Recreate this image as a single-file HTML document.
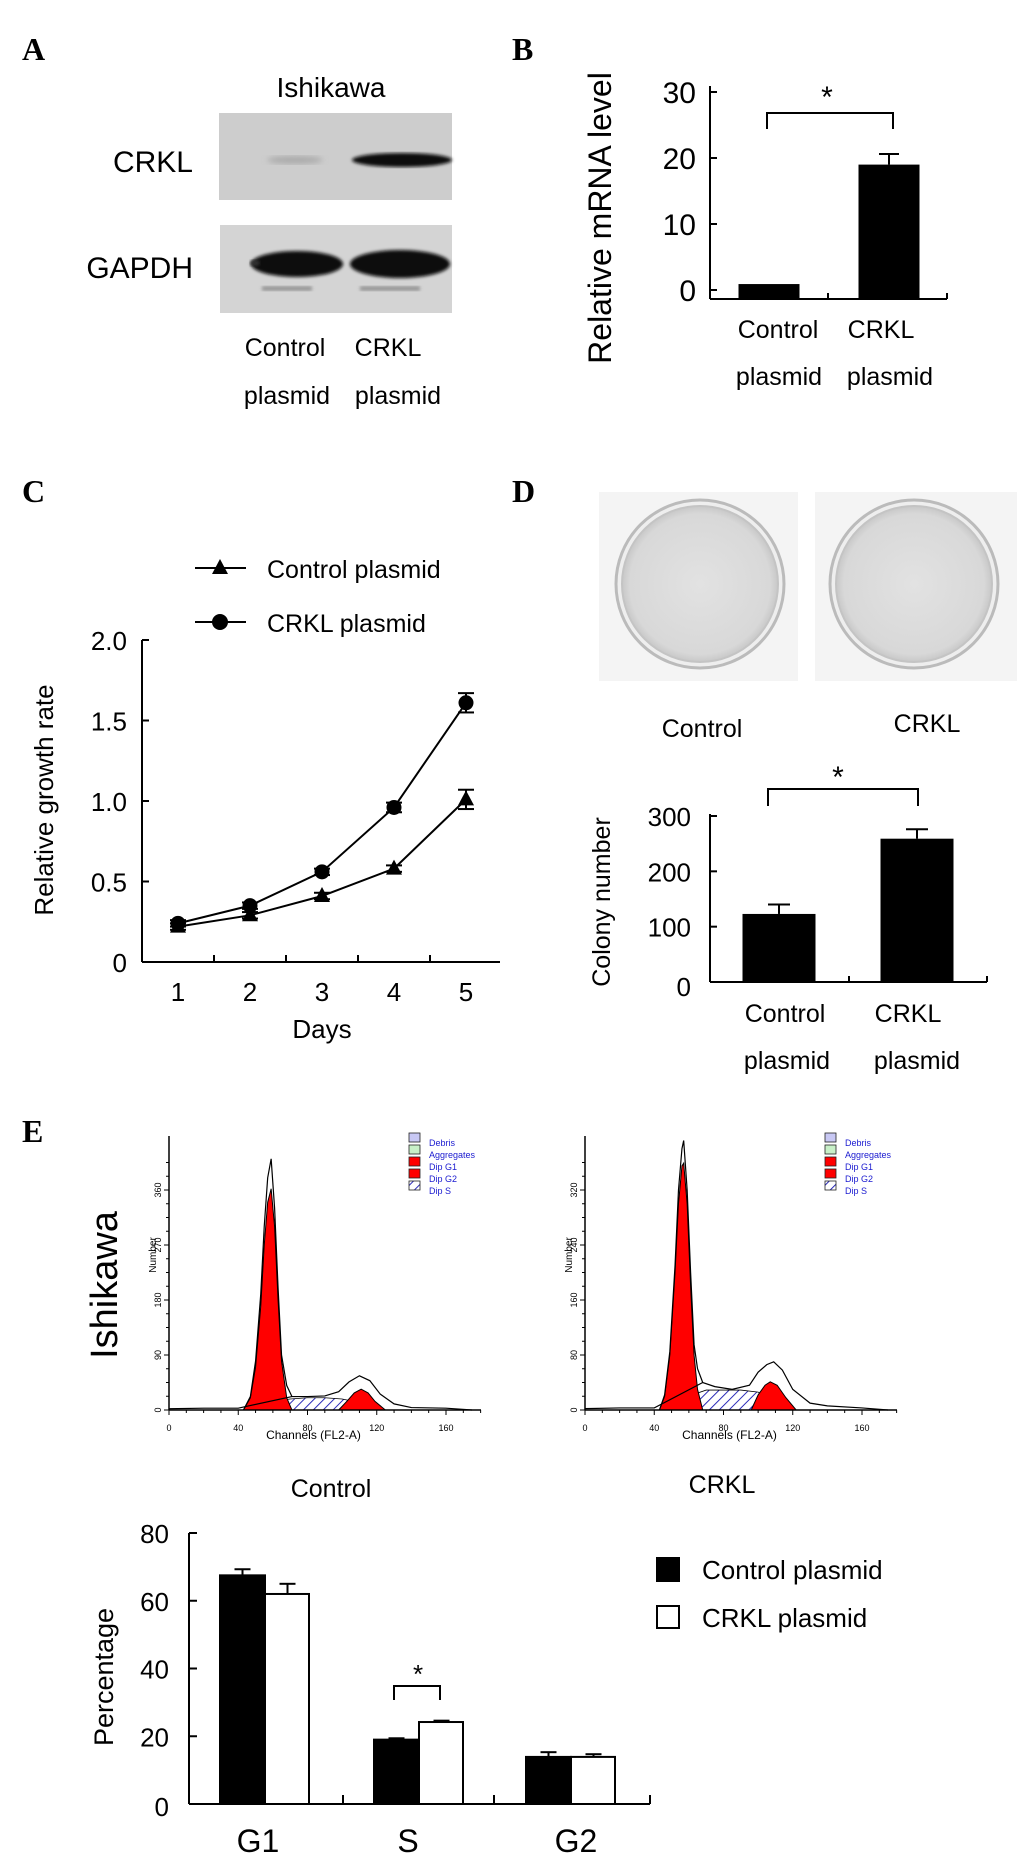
<!DOCTYPE html>
<html><head><meta charset="utf-8">
<style>
html,body{margin:0;padding:0;background:#fff;}
svg{display:block;font-family:"Liberation Sans",Arial,sans-serif;}
.pl{font-family:"Liberation Serif",serif;font-weight:bold;font-size:32px;}
</style></head>
<body>
<svg id="fig" width="1033" height="1863" viewBox="0 0 1033 1863" xmlns="http://www.w3.org/2000/svg">
<defs>
<filter id="blur3"><feGaussianBlur stdDeviation="3"/></filter>
<filter id="blur1"><feGaussianBlur stdDeviation="1.5"/></filter>
<pattern id="hatch" width="7" height="7" patternUnits="userSpaceOnUse" patternTransform="rotate(45)">
<rect width="7" height="7" fill="#fff"/><line x1="0" y1="0" x2="0" y2="7" stroke="#2b2bb8" stroke-width="2"/></pattern>
<radialGradient id="plateg" cx="50%" cy="50%" r="50%"><stop offset="0" stop-color="#e2e2e2"/><stop offset="0.9" stop-color="#d8d8d8"/><stop offset="1" stop-color="#c8c8c8"/></radialGradient>
</defs>

<!-- panel letters -->
<text class="pl" x="22" y="60">A</text>
<text class="pl" x="512" y="60">B</text>
<text class="pl" x="22" y="502">C</text>
<text class="pl" x="512" y="502">D</text>
<text class="pl" x="22" y="1142">E</text>

<!-- Panel A western blot -->
<g>
<text x="331" y="97" font-size="28" text-anchor="middle">Ishikawa</text>
<text x="193" y="172" font-size="30" text-anchor="end">CRKL</text>
<text x="193" y="278" font-size="30" text-anchor="end">GAPDH</text>
<rect x="219" y="113" width="233" height="87" fill="#cdcdcd"/>
<ellipse cx="295" cy="160" rx="28" ry="4" fill="#aaa" filter="url(#blur3)"/>
<ellipse cx="402" cy="160" rx="50" ry="7" fill="#111" filter="url(#blur1)"/>
<rect x="220" y="225" width="232" height="88" fill="#d4d4d4"/>
<ellipse cx="297" cy="264" rx="46" ry="13" fill="#080808" filter="url(#blur1)"/>
<ellipse cx="400" cy="264" rx="50" ry="14" fill="#080808" filter="url(#blur1)"/>
<ellipse cx="255" cy="263" rx="5" ry="3" fill="#333" filter="url(#blur1)"/>
<rect x="262" y="286" width="50" height="5" fill="#999" filter="url(#blur1)"/>
<rect x="360" y="286" width="60" height="5" fill="#999" filter="url(#blur1)"/>
<text x="285" y="356" font-size="25" text-anchor="middle">Control</text>
<text x="388" y="356" font-size="25" text-anchor="middle">CRKL</text>
<text x="287" y="404" font-size="25" text-anchor="middle">plasmid</text>
<text x="398" y="404" font-size="25" text-anchor="middle">plasmid</text>
</g>

<g id="chartB"></g>
<g id="chartC"></g>

<!-- Panel D plates -->
<g>
<rect x="599" y="492" width="199" height="189" fill="#f4f4f4"/>
<circle cx="700" cy="584" r="84" fill="#eee" stroke="#bbb" stroke-width="3"/>
<circle cx="700" cy="584" r="78" fill="url(#plateg)" stroke="#c4c4c4" stroke-width="2"/>
<rect x="815" y="492" width="202" height="189" fill="#f4f4f4"/>
<circle cx="914" cy="584" r="84" fill="#eee" stroke="#bbb" stroke-width="3"/>
<circle cx="914" cy="584" r="78" fill="url(#plateg)" stroke="#c4c4c4" stroke-width="2"/>
<text x="702" y="737" font-size="25" text-anchor="middle">Control</text>
<text x="927" y="732" font-size="25" text-anchor="middle">CRKL</text>
</g>
<g id="chartD"></g>

<!-- Panel E -->
<text transform="translate(117,1285) rotate(-90)" font-size="38" text-anchor="middle">Ishikawa</text>
<g id="histL"></g>
<g id="histR"></g>
<text x="331" y="1497" font-size="25" text-anchor="middle">Control</text>
<text x="722" y="1493" font-size="25" text-anchor="middle">CRKL</text>
<g id="chartE"></g>
</svg>

<script>
const NS='http://www.w3.org/2000/svg';
function mk(parent,tag,attrs,text){const e=document.createElementNS(NS,tag);for(const k in attrs)e.setAttribute(k,attrs[k]);if(text!==undefined)e.textContent=text;parent.appendChild(e);return e;}

/* ---------- Panel B data ---------- */
const bCategories=['Control','CRKL'];
const bValues=[0.9,19.0];
const bErrors=[0.2,1.6];
const bTicks=[0,10,20,30];

/* ---------- Panel C data ---------- */
const cDays=[1,2,3,4,5];
const cControl=[0.22,0.29,0.41,0.58,1.01];
const cControlErr=[0.02,0.02,0.02,0.02,0.06];
const cCrkl=[0.24,0.35,0.56,0.96,1.61];
const cCrklErr=[0.02,0.02,0.02,0.03,0.06];
const cTicks=[0,0.5,1.0,1.5,2.0];
const cTickLabels=['0','0.5','1.0','1.5','2.0'];

/* ---------- Panel D data ---------- */
const dCategories=['Control','CRKL'];
const dValues=[123,259];
const dErrors=[17,17];
const dTicks=[0,100,200,300];

/* ---------- Panel E bar data ---------- */
const eCategories=['G1','S','G2'];
const eControl=[67.5,19.0,13.9];
const eControlErr=[1.8,0.4,1.4];
const eCrkl=[62.0,24.2,13.9];
const eCrklErr=[3.0,0.4,0.8];
const eTicks=[0,20,40,60,80];

/* ---------- Flow histogram data (channel, count) ---------- */
const hLeftG1Ch=[43,47,50,53,55,57,59,61,63,65,68,71];
const hLeftG1=[0,20,70,170,270,340,362,300,180,80,20,0];
const hLeftG1Outline=[0,22,80,190,300,380,411,330,200,90,40,22];
const hLeftSCh=[52,60,70,80,90,100,110,118];
const hLeftS=[0,14,18,20,20,18,12,0];
const hLeftG2Ch=[98,103,107,111,115,119,125];
const hLeftG2=[0,15,28,34,28,14,0];
const hLeftOutCh=[0,20,40,71,80,90,98,104,110,116,122,130,140,160,175];
const hLeftOut=[2,3,3,22,22,23,30,46,56,48,26,10,4,3,0];
const hLeftTicks=[0,90,180,270,360];

const hRightG1Ch=[43,46,49,52,54,56,57,59,61,63,65,68];
const hRightG1=[0,20,80,200,300,355,359,300,180,80,30,0];
const hRightG1Outline=[0,22,85,210,320,380,392,320,200,95,60,40];
const hRightSCh=[54,62,70,80,90,100,110,116];
const hRightS=[0,22,29,29,29,26,14,0];
const hRightG2Ch=[96,100,104,107,111,116,122];
const hRightG2=[0,22,36,41,36,18,0];
const hRightOutCh=[0,20,40,68,75,85,95,100,105,109,114,120,130,140,160,175];
const hRightOut=[2,3,3,40,34,30,36,55,66,70,58,30,10,6,3,0];
const hRightTicks=[0,80,160,240,320];

function lin(d0,d1,r0,r1){return v=>r0+(v-d0)*(r1-r0)/(d1-d0);}

/* ---------- Panel B ---------- */
(function(){
 const g=document.getElementById('chartB');
 const x0=710,x1=947,yBase=299;
 const y=lin(0,30,290,92);
 mk(g,'line',{x1:x0,y1:86,x2:x0,y2:yBase,stroke:'#000','stroke-width':2});
 mk(g,'line',{x1:x0,y1:yBase,x2:x1,y2:yBase,stroke:'#000','stroke-width':2});
 mk(g,'line',{x1:828,y1:yBase,x2:828,y2:yBase-6,stroke:'#000','stroke-width':2});
 mk(g,'line',{x1:x1,y1:yBase,x2:x1,y2:yBase-6,stroke:'#000','stroke-width':2});
 bTicks.forEach(t=>{
  let e=mk(g,'line',{x1:x0,y1:y(t),x2:x0+7,y2:y(t),stroke:'#000','stroke-width':2});
  e=mk(g,'text',{x:x0-14,y:y(t)+11,'font-size':30,'text-anchor':'end'},String(t));
  
  
 });
 const t=mk(g,'text',{transform:'translate(611,218) rotate(-90)','font-size':32,'text-anchor':'middle'},'Relative mRNA level');
 
 
 const cx=[769,889],bw=61;
 bCategories.forEach((c,i)=>{
  const top=Math.min(y(bValues[i]),yBase-5);
  const r=mk(g,'rect',{x:cx[i]-bw/2,y:top,width:bw,height:yBase-top,fill:'#000'});
  
  
  if(i===1){const ye=y(bValues[i]+bErrors[i]);
   mk(g,'line',{x1:cx[i],y1:top,x2:cx[i],y2:ye,stroke:'#000','stroke-width':2});
   mk(g,'line',{x1:cx[i]-10,y1:ye,x2:cx[i]+10,y2:ye,stroke:'#000','stroke-width':2});}
  const l=mk(g,'text',{x:cx[i]+(i?-8:9),y:338,'font-size':25,'text-anchor':'middle'},c);
  
  
  mk(g,'text',{x:cx[i]+(i?1:10),y:385,'font-size':25,'text-anchor':'middle'},'plasmid');
 });
 mk(g,'path',{d:'M767,129 V113 H893 V129',fill:'none',stroke:'#000','stroke-width':2});
 const s=mk(g,'text',{x:827,y:107,'font-size':30,'text-anchor':'middle'},'*');
 
 
})();

/* ---------- Panel C ---------- */
(function(){
 const g=document.getElementById('chartC');
 const x0=142,x1=500,yB=962;
 const y=lin(0,2,962,640);
 const x=lin(1,5,178,466);
 mk(g,'line',{x1:x0,y1:640,x2:x0,y2:yB,stroke:'#000','stroke-width':2});
 mk(g,'line',{x1:x0,y1:yB,x2:x1,y2:yB,stroke:'#000','stroke-width':2});
 cTicks.forEach((t,i)=>{
  mk(g,'line',{x1:x0,y1:y(t),x2:x0+7,y2:y(t),stroke:'#000','stroke-width':2});
  const e=mk(g,'text',{x:x0-15,y:y(t)+10,'font-size':26,'text-anchor':'end'},cTickLabels[i]);
  
  
 });
 for(let i=0;i<cDays.length-1;i++){const xm=(x(cDays[i])+x(cDays[i+1]))/2;mk(g,'line',{x1:xm,y1:yB,x2:xm,y2:yB-7,stroke:'#000','stroke-width':2});}
 cDays.forEach(d=>{const e=mk(g,'text',{x:x(d),y:1001,'font-size':26,'text-anchor':'middle'},String(d));
  
  });
 let e=mk(g,'text',{x:322,y:1038,'font-size':26,'text-anchor':'middle'},'Days');
 
 
 e=mk(g,'text',{transform:'translate(53,800) rotate(-90)','font-size':26,'text-anchor':'middle'},'Relative growth rate');
 
 
 function series(vals,errs,marker,name){
  const pts=cDays.map((d,i)=>x(d)+','+y(vals[i])).join(' ');
  const pl=mk(g,'polyline',{points:pts,fill:'none',stroke:'#000','stroke-width':2});
  
  
  cDays.forEach((d,i)=>{
   const px=x(d),py=y(vals[i]),ye=y(vals[i]+errs[i]),yl=y(vals[i]-errs[i]);
   mk(g,'line',{x1:px,y1:ye,x2:px,y2:yl,stroke:'#000','stroke-width':2});
   mk(g,'line',{x1:px-8,y1:ye,x2:px+8,y2:ye,stroke:'#000','stroke-width':2});
   mk(g,'line',{x1:px-8,y1:yl,x2:px+8,y2:yl,stroke:'#000','stroke-width':2});
   let m;
   if(marker==='c')m=mk(g,'circle',{cx:px,cy:py,r:7.5,fill:'#000'});
   else m=mk(g,'polygon',{points:`${px},${py-9} ${px-8},${py+6} ${px+8},${py+6}`,fill:'#000'});
   
   
  });
 }
 series(cControl,cControlErr,'t','control');
 series(cCrkl,cCrklErr,'c','crkl');
 // legend
 mk(g,'line',{x1:195,y1:568,x2:246,y2:568,stroke:'#000','stroke-width':2});
 mk(g,'polygon',{points:'220,559 212,574 228,574',fill:'#000'});
 e=mk(g,'text',{x:267,y:578,'font-size':25},'Control  plasmid');
 
 
 mk(g,'line',{x1:195,y1:622,x2:246,y2:622,stroke:'#000','stroke-width':2});
 mk(g,'circle',{cx:220,cy:622,r:8,fill:'#000'});
 e=mk(g,'text',{x:267,y:632,'font-size':25},'CRKL   plasmid');
 
 
})();

/* ---------- Panel D ---------- */
(function(){
 const g=document.getElementById('chartD');
 const x0=710,x1=987,yB=982;
 const y=lin(0,300,982,816);
 mk(g,'line',{x1:x0,y1:814,x2:x0,y2:yB,stroke:'#000','stroke-width':2});
 mk(g,'line',{x1:x0,y1:yB,x2:x1,y2:yB,stroke:'#000','stroke-width':2});
 mk(g,'line',{x1:849,y1:yB,x2:849,y2:yB-6,stroke:'#000','stroke-width':2});
 mk(g,'line',{x1:x1,y1:yB,x2:x1,y2:yB-6,stroke:'#000','stroke-width':2});
 dTicks.forEach(t=>{
  mk(g,'line',{x1:x0,y1:y(t),x2:x0+7,y2:y(t),stroke:'#000','stroke-width':2});
  const e=mk(g,'text',{x:x0-19,y:y(t)+(t===0?14:10),'font-size':26,'text-anchor':'end'},String(t));
  
  
 });
 let e=mk(g,'text',{transform:'translate(610,902) rotate(-90)','font-size':25,'text-anchor':'middle'},'Colony number');
 
 
 const cx=[779,917],bw=73;
 dCategories.forEach((c,i)=>{
  const top=y(dValues[i]),ye=y(dValues[i]+dErrors[i]);
  mk(g,'line',{x1:cx[i],y1:top,x2:cx[i],y2:ye,stroke:'#000','stroke-width':2});
  mk(g,'line',{x1:cx[i]-11,y1:ye,x2:cx[i]+11,y2:ye,stroke:'#000','stroke-width':2});
  const r=mk(g,'rect',{x:cx[i]-bw/2,y:top,width:bw,height:yB-top,fill:'#000'});
  
  
  const l=mk(g,'text',{x:[785,908][i],y:1022,'font-size':25,'text-anchor':'middle'},c);
  
  
  mk(g,'text',{x:[787,917][i],y:1069,'font-size':25,'text-anchor':'middle'},'plasmid');
 });
 mk(g,'path',{d:'M768,806 V789 H918 V806',fill:'none',stroke:'#000','stroke-width':2});
 e=mk(g,'text',{x:838,y:787,'font-size':30,'text-anchor':'middle'},'*');
 
 
})();

/* ---------- Flow histograms ---------- */
function hist(id,ax,ticks,g1c,g1,g1o,sc,s,g2c,g2,oc,o,tickStep){
 const g=document.getElementById(id);
 const yB=1410,top=1136;
 const x=lin(0,160,ax,ax+277);
 const y=lin(0,ticks[1],yB,yB-55);
 const poly=(ch,v)=>ch.map((c,i)=>x(c)+','+y(v[i])).join(' ');
 let e=mk(g,'polygon',{points:poly(sc,s),fill:'url(#hatch)',stroke:'#000','stroke-width':0.8});
 
 
 e=mk(g,'polygon',{points:poly(g1c,g1),fill:'#f00',stroke:'#000','stroke-width':1});
 
 
 e=mk(g,'polygon',{points:poly(g2c,g2),fill:'#f00',stroke:'#000','stroke-width':1});
 
 
 mk(g,'polyline',{points:poly(g1c,g1o),fill:'none',stroke:'#000','stroke-width':1.2});
 mk(g,'polyline',{points:poly(oc,o),fill:'none',stroke:'#000','stroke-width':1.2});
 mk(g,'line',{x1:ax,y1:top,x2:ax,y2:yB,stroke:'#000','stroke-width':1.5});
 mk(g,'line',{x1:ax,y1:yB,x2:ax+312,y2:yB,stroke:'#000','stroke-width':1.5});
 for(let c=0;c<=180;c+=10){mk(g,'line',{x1:x(c),y1:yB,x2:x(c),y2:yB+(c%40===0?5:3),stroke:'#000','stroke-width':1});}
 for(let v=0;v<=ticks[4]*1.15;v+=ticks[1]/4){mk(g,'line',{x1:ax-(v%ticks[1]===0?5:3),y1:y(v),x2:ax,y2:y(v),stroke:'#000','stroke-width':1});}
 ticks.forEach(t=>{mk(g,'text',{transform:`translate(${ax-8},${y(t)}) rotate(-90)`,'font-size':9,'text-anchor':'middle'},String(t));});
 [0,40,80,120,160].forEach(c=>{mk(g,'text',{x:x(c),y:yB+21,'font-size':9,'text-anchor':'middle'},String(c));});
 mk(g,'text',{x:x(80)+6,y:yB+29,'font-size':12,'text-anchor':'middle'},'Channels (FL2-A)');
 mk(g,'text',{transform:`translate(${ax-13},${yB-155}) rotate(-90)`,'font-size':10,'text-anchor':'middle'},'Number');
 const lx=ax+240;
 const cols=[['#c8c8f4','Debris'],['#c8f0c8','Aggregates'],['#f00','Dip G1'],['#f00','Dip G2'],['url(#hatch)','Dip S']];
 cols.forEach((c,i)=>{
  mk(g,'rect',{x:lx,y:1133+i*12,width:11,height:9,fill:c[0],stroke:'#222','stroke-width':0.8});
  const t=mk(g,'text',{x:lx+20,y:1146+i*12,'font-size':9,fill:'#1a1ad0'},c[1]);
  
  
 });
}
hist('histL',169,hLeftTicks,hLeftG1Ch,hLeftG1,hLeftG1Outline,hLeftSCh,hLeftS,hLeftG2Ch,hLeftG2,hLeftOutCh,hLeftOut);
hist('histR',585,hRightTicks,hRightG1Ch,hRightG1,hRightG1Outline,hRightSCh,hRightS,hRightG2Ch,hRightG2,hRightOutCh,hRightOut);

/* ---------- Panel E bar chart ---------- */
(function(){
 const g=document.getElementById('chartE');
 const x0=189,x1=650,yB=1804;
 const y=lin(0,80,1804,1533);
 mk(g,'line',{x1:x0,y1:1533,x2:x0,y2:yB,stroke:'#000','stroke-width':2});
 mk(g,'line',{x1:x0,y1:yB,x2:x1,y2:yB,stroke:'#000','stroke-width':2});
 [343,494,650].forEach(tx=>mk(g,'line',{x1:tx,y1:yB,x2:tx,y2:yB-9,stroke:'#000','stroke-width':2}));
 eTicks.forEach(t=>{
  mk(g,'line',{x1:x0,y1:y(t),x2:x0+8,y2:y(t),stroke:'#000','stroke-width':2});
  const e=mk(g,'text',{x:x0-20,y:y(t)+(t===0?12:10),'font-size':26,'text-anchor':'end'},String(t));
  
  
 });
 let e=mk(g,'text',{transform:'translate(113,1677) rotate(-90)','font-size':27,'text-anchor':'middle'},'Percentage');
 
 
 const gx=[220,374,526],bw=45;
 eCategories.forEach((c,i)=>{
  [[eControl,eControlErr,'#000','control'],[eCrkl,eCrklErr,'#fff','crkl']].forEach((s,j)=>{
   const bx=gx[i]+j*bw,top=y(s[0][i]),ye=y(s[0][i]+s[1][i]),cx=bx+bw/2;
   mk(g,'line',{x1:cx,y1:top,x2:cx,y2:ye,stroke:'#000','stroke-width':2});
   mk(g,'line',{x1:cx-8,y1:ye,x2:cx+8,y2:ye,stroke:'#000','stroke-width':2});
   const r=mk(g,'rect',{x:bx+(j?0:0),y:top,width:bw-(j?1:0),height:yB-top,fill:s[2],stroke:'#000','stroke-width':2});
   
   
  });
  const l=mk(g,'text',{x:[258,408,576][i],y:1852,'font-size':32,'text-anchor':'middle'},c);
  
  
 });
 mk(g,'path',{d:'M394,1700 V1686 H440 V1700',fill:'none',stroke:'#000','stroke-width':2});
 e=mk(g,'text',{x:418,y:1683,'font-size':26,'text-anchor':'middle'},'*');
 
 
 mk(g,'rect',{x:656,y:1557,width:24,height:25,fill:'#000'});
 e=mk(g,'text',{x:702,y:1579,'font-size':26},'Control plasmid');
 
 
 mk(g,'rect',{x:657,y:1606,width:22,height:22,fill:'#fff',stroke:'#000','stroke-width':2});
 e=mk(g,'text',{x:702,y:1627,'font-size':26},'CRKL plasmid');
 
 
})();
</script>
</body></html>
